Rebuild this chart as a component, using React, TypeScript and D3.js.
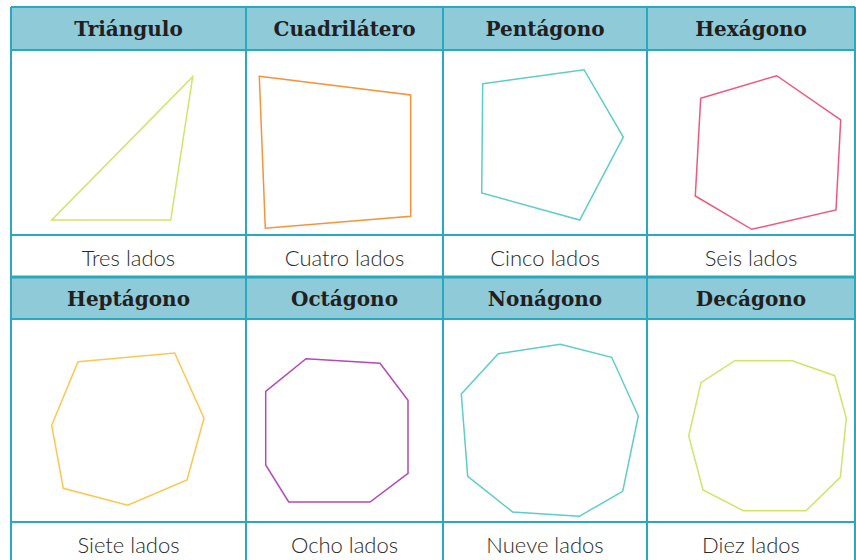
import React from 'react';
import * as d3 from 'd3';

// shape names, side labels and vertices (cell-local px)
const shapeNames = ['Triángulo', 'Cuadrilátero', 'Pentágono', 'Hexágono', 'Heptágono', 'Octágono', 'Nonágono', 'Decágono'];
const sideLabels = ['Tres lados', 'Cuatro lados', 'Cinco lados', 'Seis lados', 'Siete lados', 'Ocho lados', 'Nueve lados', 'Diez lados'];

const triangle = [[181.7, 26.7], [159.7, 170], [40.7, 170]];
const quadrilateral = [[13.3, 26.3], [164.7, 45], [164.7, 166.3], [19.3, 178.3]];
const pentagon = [[39.7, 33.7], [141, 19.7], [180.3, 87], [136.7, 170], [38.7, 143]];
const hexagon = [[53.7, 48.3], [129.7, 25.7], [193.7, 70], [189, 160], [104.7, 179.3], [48.3, 146]];
const heptagon = [[67, 42.7], [163.7, 34], [193, 99.3], [176, 161], [116.7, 186.3], [52.3, 169.3], [40.7, 106.3]];
const octagon = [[60, 39.7], [134, 44.3], [162, 81.3], [162, 154.3], [124, 183], [42.7, 183], [19.7, 146], [19.7, 72.3]];
const nonagon = [[55.3, 34.7], [117.3, 25.3], [168.7, 38.3], [195.3, 97], [179.7, 172.3], [136.3, 197.3], [69.7, 193], [24.7, 157.3], [18.3, 75]];
const decagon = [[87.7, 41.7], [145.3, 41.7], [187.7, 56.7], [199.3, 99.3], [193.3, 158.3], [159, 191.7], [96.3, 191.7], [56, 171], [41.7, 117], [54, 63.7]];

const shapes = [triangle, quadrilateral, pentagon, hexagon, heptagon, octagon, nonagon, decagon];

const strokeColors = ['#d3e36a', '#f7923a', '#5dcdc8', '#f1577a', '#fdc650', '#b748b8', '#5dcdc8', '#d3e36a'];

// table layout
const colEdges = [11, 246, 443, 647, 855];
const rowBlocks = [
  { header: [7, 50], image: [50, 235], label: [235, 277] },
  { header: [277, 319], image: [319, 522], label: [522, 580] },
];

const BORDER = '#27a9bf';
const HEADER_FILL = '#8ecad8';

export default function App() {
  const line = d3.line<number[]>().curve(d3.curveLinearClosed);

  const cells = shapes.map((pts, i) => {
    const r = Math.floor(i / 4);
    const c = i % 4;
    const blk = rowBlocks[r];
    const x0 = colEdges[c];
    const x1 = colEdges[c + 1];
    const x = d3.scaleLinear().domain([0, x1 - x0]).range([x0, x1]);
    const y = d3.scaleLinear().domain([0, blk.image[1] - blk.image[0]]).range(blk.image);
    const d = line(pts.map(p => [x(p[0]), y(p[1])]));
    return { i, r, c, x0, x1, blk, d };
  });

  return (
    <svg width={856} height={560} style={{ position: 'absolute', left: 0, top: 0, background: '#fff' }}>
      {rowBlocks.map((b, r) => (
        <rect key={'h' + r} x={colEdges[0]} y={b.header[0]} width={colEdges[4] - colEdges[0]}
          height={b.header[1] - b.header[0]} fill={HEADER_FILL} />
      ))}
      {cells.map(cl => (
        <g key={cl.i}>
          <text x={(cl.x0 + cl.x1) / 2} y={cl.blk.header[0] + 29} textAnchor="middle"
            fontFamily="'DejaVu Serif'" fontWeight="bold" fontSize={20} fill="#231f20">
            {shapeNames[cl.i]}
          </text>
          <path d={cl.d ?? ''} fill="none" stroke={strokeColors[cl.i]} strokeWidth={1.5} strokeLinejoin="miter" />
          <text x={(cl.x0 + cl.x1) / 2} y={cl.blk.label[0] + 31} textAnchor="middle"
            fontFamily="Lato, 'Open Sans', sans-serif" fontWeight={300} fontSize={22} fill="#2a2a2a">
            {sideLabels[cl.i]}
          </text>
        </g>
      ))}
      {/* horizontal rules */}
      {rowBlocks.map((b, r) => (
        <g key={'hl' + r}>
          <line x1={colEdges[0]} x2={colEdges[4]} y1={b.header[0]} y2={b.header[0]} stroke={BORDER} strokeWidth={r === 0 ? 2 : 3} />
          <line x1={colEdges[0]} x2={colEdges[4]} y1={b.image[0]} y2={b.image[0]} stroke={BORDER} strokeWidth={2} />
          <line x1={colEdges[0]} x2={colEdges[4]} y1={b.label[0]} y2={b.label[0]} stroke={BORDER} strokeWidth={2} />
        </g>
      ))}
      {/* vertical rules */}
      {colEdges.map((cx, k) => (
        <line key={'v' + k} x1={cx} x2={cx} y1={7} y2={560} stroke={BORDER} strokeWidth={2} />
      ))}
    </svg>
  );
}
